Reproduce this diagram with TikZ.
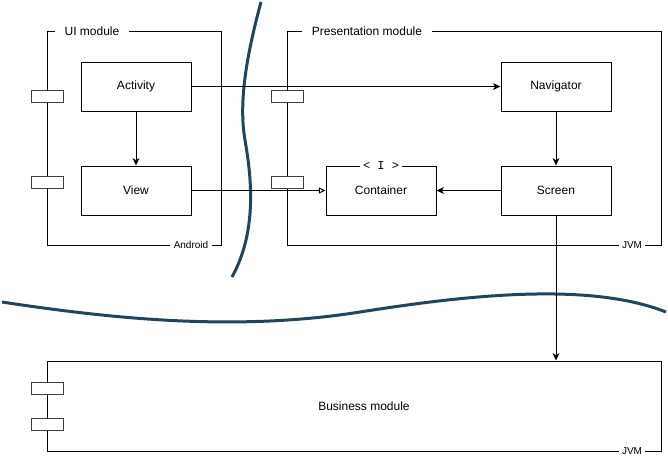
\documentclass[tikz,border=0pt]{standalone}
\usepackage{fontspec}
\setmainfont{Liberation Sans}
\newfontfamily\ifacefont{Liberation Mono}
\usetikzlibrary{arrows.meta,positioning}
\definecolor{wavecol}{HTML}{23445D}
\tikzset{
    comp/.style={draw,minimum width=82.5pt,minimum height=36.75pt,inner sep=0pt,font=\fontsize{9}{11}\selectfont},
    frame/.style={draw,inner sep=0pt},
    port/.style={draw=black!75,fill=white,minimum width=24pt,minimum height=9pt,inner sep=0pt},
    title/.style={fill=white,inner xsep=7.5pt,inner ysep=1pt,font=\fontsize{9}{11}\selectfont},
    tag/.style={fill=white,inner xsep=2.5pt,inner ysep=1pt,font=\fontsize{7.5}{9}\selectfont},
    wire/.style={-{Stealth[length=5.5pt,width=5pt,inset=1.5pt]}},
    realize/.style={-{Triangle[open,length=5pt,width=4.5pt]}},
    wave/.style={draw=wavecol,line width=2.25pt}
}

\begin{document}
\begin{tikzpicture}[x=0.75pt,y=-0.75pt,line width=0.75pt]
    \useasboundingbox (0,0) rectangle (668,462);

    % separators
    \draw[wave] (261,2) .. controls (248,50) and (238,100) .. (245,140)
        .. controls (251,175) and (258,230) .. (232,277);
    \draw[wave] (2,302) .. controls (120,320) and (240,331) .. (360,312)
        .. controls (470,294.6) and (590,282) .. (666,312);

    % modules
    \node[frame,minimum width=130.5pt,minimum height=160.5pt] (ui)   at (134,138) {};
    \node[frame,minimum width=280.5pt,minimum height=160.5pt] (pres) at (474,138) {};
    \node[frame,minimum width=460.5pt,minimum height=67.5pt]  (bus)  at (354,406) {};
    \node[title] (uiname)   at (92,31)  {UI module};
    \node[title] (presname) at (367,31) {Presentation module};
    \node[font=\fontsize{9}{11}\selectfont] (busname) at (364,406) {Business module};
    \node[tag] (uitag)   at (191,245) {Android};
    \node[tag] (prestag) at (632,245) {JVM};
    \node[tag] (bustag)  at (632,451) {JVM};

    % ports
    \foreach \px/\py [count=\i] in {47/96,47/182,287/96,287/182,47/388,47/424}
        \node[port] (p\i) at (\px,\py) {};

    % components
    \node[comp] (act)  at (136,86.5)  {Activity};
    \node[comp] (view) at (136,190.5) {View};
    \node[comp] (nav)  at (556,86.5)  {Navigator};
    \node[comp] (scr)  at (556,190.5) {Screen};
    \node[comp] (cont) at (381,190.5) {Container};
    \node[fill=white,inner xsep=2.25pt,inner ysep=0.5pt,font=\ifacefont\fontsize{9}{11}\selectfont] (iface) at (cont.north) {< I >};

    \draw[wire] (act) -- (nav);
    \draw[wire] (act) -- (view);
    \draw[wire] (nav) -- (scr);
    \draw[wire] (scr) -- (cont);
    \draw[realize] (view) -- (cont);
    \draw[wire] (scr) -- (scr |- bus.north);
\end{tikzpicture}
\end{document}
